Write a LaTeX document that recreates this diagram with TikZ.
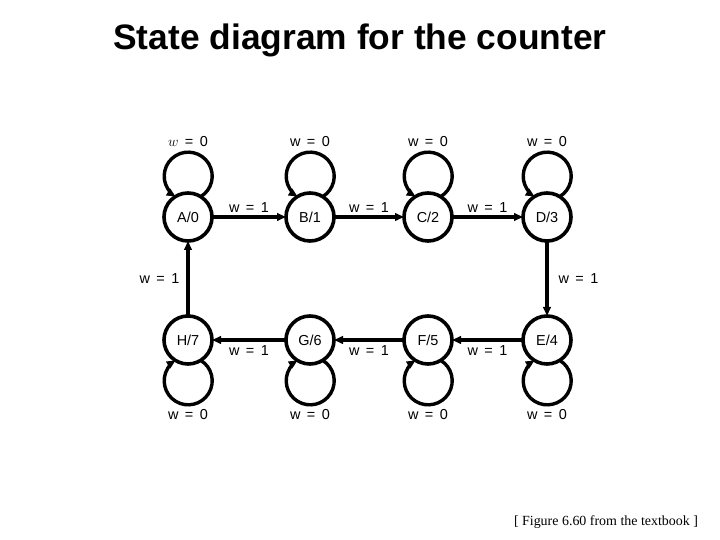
\documentclass[tikz,border=0pt]{standalone}
\usepackage{fontspec}
\setmainfont{Liberation Sans}
\newfontfamily\capfont{Liberation Serif}
\usetikzlibrary{arrows.meta}

\tikzset{
  state/.style={draw, circle, line width=3.6bp, minimum size=48bp,
    inner sep=0pt, outer sep=0pt, font=\fontsize{14.5}{16}\selectfont},
  trans/.style={line width=3.1bp, -{Triangle[length=9bp,width=7.5bp]}},
  selfloop/.style={line width=3.4bp, -{Triangle[length=9bp,width=7.5bp]}},
  lab/.style={font=\fontsize{14.5}{16}\selectfont, inner sep=1bp},
}
\newcommand{\wval}[1]{w\hspace{0.45em}=\hspace{0.45em}#1}

\begin{document}
\begin{tikzpicture}[x=1bp, y=1bp]
  \useasboundingbox (0,0) rectangle (720,540);

  % --- title ---
  \node[anchor=base, font=\bfseries\fontsize{35.5}{40}\selectfont] (title) at (360,490)
    {State diagram for the counter};

  % --- states, top row ---
  \node[state] (A) at (188,323) {A/0};
  \node[state] (B) at (310,323) {B/1};
  \node[state] (C) at (428,323) {C/2};
  \node[state] (D) at (547,323) {D/3};

  % --- states, bottom row ---
  \node[state] (H) at (188,200) {H/7};
  \node[state] (G) at (310,200) {G/6};
  \node[state] (F) at (428,200) {F/5};
  \node[state] (E) at (547,200) {E/4};

  % self loops (w = 0), circles above the top row
  \foreach \s in {A,B,C,D}{
    \draw[selfloop] (\s.58.6) arc[start angle=-58.6, end angle=238.6, radius=24bp];
  }
  % ... and below the bottom row
  \foreach \s in {H,G,F,E}{
    \draw[selfloop] (\s.-58.6) arc[start angle=58.6, end angle=-238.6, radius=24bp];
  }

  \node[lab] (wA) at ([yshift=75bp]A.center) {$w$\hspace{0.45em}=\hspace{0.45em}0};
  \node[lab] (wB) at ([yshift=75bp]B.center) {\wval{0}};
  \node[lab] (wC) at ([yshift=75bp]C.center) {\wval{0}};
  \node[lab] (wD) at ([yshift=75bp]D.center) {\wval{0}};
  \node[lab] (wH) at ([yshift=-75bp]H.center) {\wval{0}};
  \node[lab] (wG) at ([yshift=-75bp]G.center) {\wval{0}};
  \node[lab] (wF) at ([yshift=-75bp]F.center) {\wval{0}};
  \node[lab] (wE) at ([yshift=-75bp]E.center) {\wval{0}};

  % --- counting transitions (w = 1) ---
  \draw[trans] (A) -- node[lab, above=2bp] (wAB) {\wval{1}} (B);
  \draw[trans] (B) -- node[lab, above=2bp] (wBC) {\wval{1}} (C);
  \draw[trans] (C) -- node[lab, above=2bp] (wCD) {\wval{1}} (D);
  \draw[trans] (D) -- node[lab, right=9bp] (wDE) {\wval{1}} (E);
  \draw[trans] (E) -- node[lab, below=3bp] (wEF) {\wval{1}} (F);
  \draw[trans] (F) -- node[lab, below=3bp] (wFG) {\wval{1}} (G);
  \draw[trans] (G) -- node[lab, below=3bp] (wGH) {\wval{1}} (H);
  \draw[trans] (H) -- node[lab, left=6bp] (wHA) {\wval{1}} (A);

  % source note
  \node[font=\capfont\fontsize{14}{16}\selectfont] (note) at (606,18)
    {[ Figure 6.60 from the textbook ]};
\end{tikzpicture}
\end{document}
